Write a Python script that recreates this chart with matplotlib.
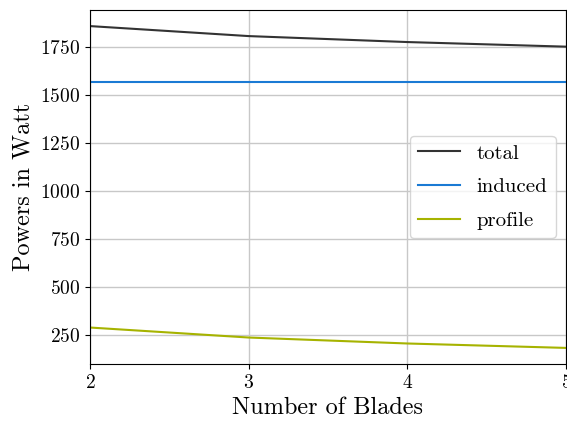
import matplotlib
matplotlib.use("Agg")
import matplotlib.pyplot as plt

# Power breakdown versus blade count
blades = [2, 3, 4, 5]
total = [1859, 1807, 1776, 1752]
induced = [1569, 1569, 1569, 1569]
profile = [291, 239, 208, 185]

plt.rcParams['font.family'] = ['cmr10']
plt.rcParams['mathtext.fontset'] = 'cm'
plt.rcParams['axes.formatter.use_mathtext'] = True

fig = plt.figure(figsize=(5.67, 4.25), dpi=100)
ax = fig.add_axes([90 / 567, 1 - 364 / 425, 476 / 567, 354 / 425])

ax.plot(blades, total, color='#333333', lw=1.5, label='total')
ax.plot(blades, induced, color='#1a7ad4', lw=1.5, label='induced')
ax.plot(blades, profile, color='#a6b300', lw=1.5, label='profile')

ax.set_xlim(2, 5)
ax.set_xticks([2, 3, 4, 5])
ax.set_yticks([250, 500, 750, 1000, 1250, 1500, 1750])
ax.grid(True, color='#c8c8c8', lw=1)
ax.tick_params(labelsize=14)
ax.set_xlabel('Number of Blades', fontsize=17.5)
ax.set_ylabel('Powers in Watt', fontsize=17.5)
ax.legend(loc='center right', fontsize=15, labelspacing=0.72)

fig.savefig('out.png', dpi=100)
